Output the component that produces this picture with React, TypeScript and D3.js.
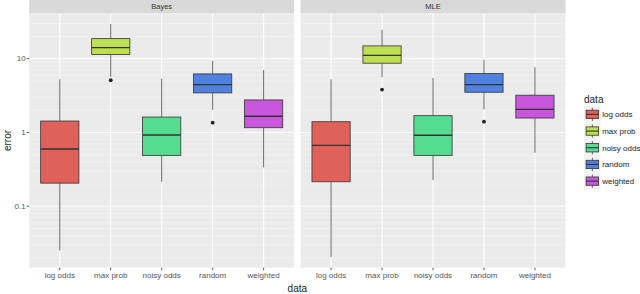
import React from "react";
import * as d3 from "d3";

const panels = ["Bayes", "MLE"];
const categories = ["log odds", "max prob", "noisy odds", "random", "weighted"];
const colors = ["#e0605a", "#bddf52", "#55dc91", "#5181de", "#c957db"];

const bayesLower = [0.0252, 5.7, 0.215, 2.02, 0.337];
const bayesQ1 = [0.206, 11.4, 0.49, 3.44, 1.16];
const bayesMedian = [0.597, 14.1, 0.925, 4.45, 1.66];
const bayesQ3 = [1.43, 18.7, 1.62, 6.22, 2.76];
const bayesUpper = [5.27, 29.4, 5.37, 9.33, 7.05];
const bayesOutliers = [[], [5.1], [], [1.36], []];

const mleLower = [0.0206, 5.61, 0.227, 2.06, 0.532];
const mleQ1 = [0.215, 8.69, 0.49, 3.51, 1.57];
const mleMedian = [0.67, 11.1, 0.916, 4.45, 2.06];
const mleQ3 = [1.4, 14.9, 1.69, 6.28, 3.2];
const mleUpper = [5.27, 24.6, 5.49, 9.63, 7.67];
const mleOutliers = [[], [3.81], [], [1.4], []];

const yTicks = [0.1, 1, 10];
const yTickLabels = ["0.1", "1", "10"];
const minorMultipliers = [2, 3, 4, 5, 6, 7, 8, 9];
const minorDecades = [0.01, 0.1, 1, 10];

const panelData = [
  { lower: bayesLower, q1: bayesQ1, median: bayesMedian, q3: bayesQ3, upper: bayesUpper, outliers: bayesOutliers },
  { lower: mleLower, q1: mleQ1, median: mleMedian, q3: mleQ3, upper: mleUpper, outliers: mleOutliers },
];

const W = 640, H = 294;
const top = 13.3, bottom = 267.7;
const stripTop = 0;
const panelX = [[29.2, 294.2], [300.5, 565.5]];
const font = "'Liberation Sans', Arial, Helvetica, sans-serif";

export default function App() {
  const y = d3.scaleLog().domain([0.01473, 41.2]).range([bottom, top]);
  const [d0, d1] = y.domain();
  const minor = minorDecades.flatMap((d) => minorMultipliers.map((m) => m * d)).filter((v) => v > d0 && v < d1);

  return (
    <svg width={W} height={H} style={{ position: "absolute", left: 0, top: 0, background: "#fff" }} fontFamily={font}>
      {panels.map((p, pi) => {
        const [x0, x1] = panelX[pi];
        const x = d3.scalePoint<string>().domain(categories).range([x0, x1]).padding(0.6);
        const step = x.step();
        const bw = step * 0.75;
        const D = panelData[pi];
        return (
          <g key={p}>
            <rect x={x0} y={top} width={x1 - x0} height={bottom - top} fill="#ebebeb" />
            {minor.map((v) => (
              <line key={"m" + v} x1={x0} x2={x1} y1={y(v)} y2={y(v)} stroke="#ffffff" strokeWidth={0.4} strokeOpacity={0.8} />
            ))}
            {yTicks.map((v) => (
              <line key={"M" + v} x1={x0} x2={x1} y1={y(v)} y2={y(v)} stroke="#ffffff" strokeWidth={1.1} />
            ))}
            {categories.map((c) => (
              <line key={"v" + c} x1={x(c)!} x2={x(c)!} y1={top} y2={bottom} stroke="#ffffff" strokeWidth={1.1} />
            ))}
            <rect x={x0} y={stripTop} width={x1 - x0} height={top - stripTop} fill="#d9d9d9" />
            <text x={(x0 + x1) / 2} y={9.3} textAnchor="middle" fontSize={7.5} fill="#333333">{p}</text>
            {categories.map((c, i) => {
              const cx = x(c)!;
              return (
                <g key={"b" + c}>
                  <line x1={cx} x2={cx} y1={y(D.q3[i])} y2={y(D.upper[i])} stroke="#444444" strokeWidth={0.8} />
                  <line x1={cx} x2={cx} y1={y(D.q1[i])} y2={y(D.lower[i])} stroke="#444444" strokeWidth={0.8} />
                  <rect x={cx - bw / 2} y={y(D.q3[i])} width={bw} height={y(D.q1[i]) - y(D.q3[i])} fill={colors[i]} stroke="#333333" strokeWidth={0.8} />
                  <line x1={cx - bw / 2} x2={cx + bw / 2} y1={y(D.median[i])} y2={y(D.median[i])} stroke="#333333" strokeWidth={1.4} />
                  {D.outliers[i].map((o, k) => (
                    <circle key={k} cx={cx} cy={y(o)} r={1.9} fill="#222222" />
                  ))}
                </g>
              );
            })}
            {categories.map((c) => (
              <g key={"t" + c}>
                <line x1={x(c)!} x2={x(c)!} y1={bottom} y2={bottom + 2.5} stroke="#333333" strokeWidth={0.8} />
                <text x={x(c)!} y={bottom + 10} textAnchor="middle" fontSize={8} fill="#555555">{c}</text>
              </g>
            ))}
          </g>
        );
      })}
      {yTicks.map((v, i) => (
        <g key={"yt" + v}>
          <line x1={panelX[0][0] - 2.5} x2={panelX[0][0]} y1={y(v)} y2={y(v)} stroke="#333333" strokeWidth={0.8} />
          <text x={panelX[0][0] - 3.5} y={y(v) + 2.8} textAnchor="end" fontSize={8} fill="#555555">{yTickLabels[i]}</text>
        </g>
      ))}
      <text transform={`translate(11,${(top + bottom) / 2}) rotate(-90)`} textAnchor="middle" fontSize={10} fill="#1a1a1a">error</text>
      <text x={(panelX[0][0] + panelX[1][1]) / 2} y={291.5} textAnchor="middle" fontSize={10} fill="#1a1a1a">data</text>
      <text x={584} y={103} fontSize={10} fill="#1a1a1a">data</text>
      {categories.map((c, i) => {
        const ky = 106 + i * 16.7;
        const kx = 584;
        const k = 16.7;
        return (
          <g key={"l" + c}>
            <rect x={kx} y={ky} width={k} height={k} fill="#f2f2f2" />
            <line x1={kx + k / 2} x2={kx + k / 2} y1={ky + k * 0.1} y2={ky + k * 0.9} stroke="#444444" strokeWidth={0.8} />
            <rect x={kx + k * 0.125} y={ky + k * 0.25} width={k * 0.75} height={k * 0.5} fill={colors[i]} stroke="#333333" strokeWidth={0.8} />
            <line x1={kx + k * 0.125} x2={kx + k * 0.875} y1={ky + k / 2} y2={ky + k / 2} stroke="#333333" strokeWidth={1.1} />
            <text x={kx + k + 1.5} y={ky + k / 2 + 2.8} fontSize={8} fill="#222222">{c}</text>
          </g>
        );
      })}
    </svg>
  );
}
